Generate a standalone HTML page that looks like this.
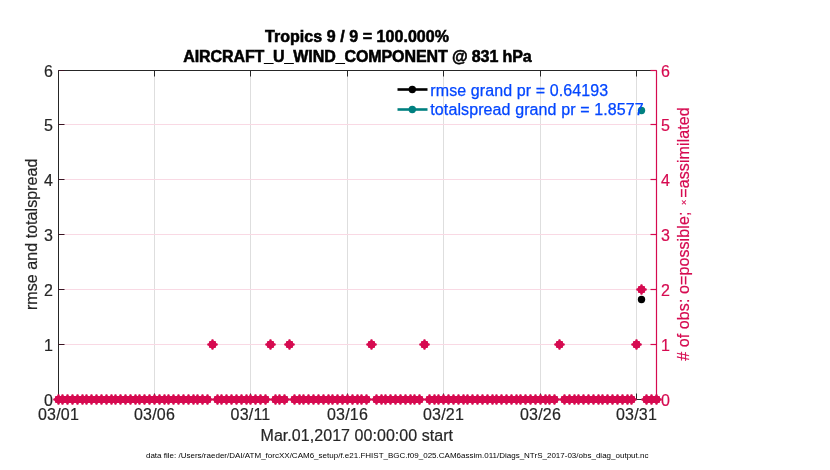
<!DOCTYPE html>
<html lang="en">
<head>
<meta charset="utf-8">
<title>AIRCRAFT_U_WIND_COMPONENT @ 831 hPa</title>
<style>
html,body{margin:0;padding:0;background:#fff;}
body{width:830px;height:470px;overflow:hidden;}
svg{display:block;font-family:"Liberation Sans",sans-serif;}
.t{font-size:16px;fill:#262626;stroke:#262626;stroke-width:0.2px;letter-spacing:0.2px;}
.tb{font-size:16px;font-weight:bold;fill:#000;stroke:#000;stroke-width:0.55px;}
.r{font-size:16px;fill:#d60a50;stroke:#d60a50;stroke-width:0.2px;letter-spacing:0.2px;}
.lg{font-size:16px;fill:#0346ff;stroke:#0346ff;stroke-width:0.25px;}
.ft{font-size:8px;fill:#000;}
</style>
</head>
<body>
<svg width="830" height="470" viewBox="0 0 830 470">
<defs>
<g id="m"><polygon points="5.30 -0.80 5.30 0.80 3.51 1.45 3.61 2.76 2.76 3.61 1.45 3.51 0.80 5.30 -0.80 5.30 -1.45 3.51 -2.76 3.61 -3.61 2.76 -3.51 1.45 -5.30 0.80 -5.30 -0.80 -3.51 -1.45 -3.61 -2.76 -2.76 -3.61 -1.45 -3.51 -0.80 -5.30 0.80 -5.30 1.45 -3.51 2.76 -3.61 3.61 -2.76 3.51 -1.45" fill="#d60a50"/></g>
</defs>
<rect width="830" height="470" fill="#fff"/>

<g stroke="#dedede" stroke-width="1">
<line x1="154.50" y1="70.5" x2="154.50" y2="399.5"/>
<line x1="250.50" y1="70.5" x2="250.50" y2="399.5"/>
<line x1="347.50" y1="70.5" x2="347.50" y2="399.5"/>
<line x1="443.50" y1="70.5" x2="443.50" y2="399.5"/>
<line x1="540.50" y1="70.5" x2="540.50" y2="399.5"/>
<line x1="636.50" y1="70.5" x2="636.50" y2="399.5"/>
</g>
<g stroke="#f9d9e4" stroke-width="1">
<line x1="58.5" y1="344.50" x2="656.5" y2="344.50"/>
<line x1="58.5" y1="289.50" x2="656.5" y2="289.50"/>
<line x1="58.5" y1="234.50" x2="656.5" y2="234.50"/>
<line x1="58.5" y1="179.50" x2="656.5" y2="179.50"/>
<line x1="58.5" y1="124.50" x2="656.5" y2="124.50"/>
</g>
<g stroke="#262626" stroke-width="1" fill="none">
<path d="M58.5 399.5V70.5H656.5M58.5 399.5H656.5"/>
<path d="M58.50 399.5v-6M58.50 70.5v6"/>
<path d="M154.50 399.5v-6M154.50 70.5v6"/>
<path d="M250.50 399.5v-6M250.50 70.5v6"/>
<path d="M347.50 399.5v-6M347.50 70.5v6"/>
<path d="M443.50 399.5v-6M443.50 70.5v6"/>
<path d="M540.50 399.5v-6M540.50 70.5v6"/>
<path d="M636.50 399.5v-6M636.50 70.5v6"/>
<path stroke="#3a1422" d="M58.5 399.50h6"/>
<path stroke="#3a1422" d="M58.5 344.50h6"/>
<path stroke="#3a1422" d="M58.5 289.50h6"/>
<path stroke="#3a1422" d="M58.5 234.50h6"/>
<path stroke="#3a1422" d="M58.5 179.50h6"/>
<path stroke="#3a1422" d="M58.5 124.50h6"/>
<path stroke="#3a1422" d="M58.5 70.50h6"/>
</g>
<g stroke="#d60a50" stroke-width="1.2" fill="none">
<path d="M656.5 399.5V70.5"/>
<path d="M656.5 399.50h-6"/>
<path d="M656.5 344.50h-6"/>
<path d="M656.5 289.50h-6"/>
<path d="M656.5 234.50h-6"/>
<path d="M656.5 179.50h-6"/>
<path d="M656.5 124.50h-6"/>
<path d="M656.5 70.50h-6"/>
</g>
<g class="t" text-anchor="end">
<text x="53.1" y="405.90">0</text>
<text x="53.1" y="350.90">1</text>
<text x="53.1" y="295.90">2</text>
<text x="53.1" y="240.90">3</text>
<text x="53.1" y="185.90">4</text>
<text x="53.1" y="130.90">5</text>
<text x="53.1" y="76.90">6</text>
</g>
<g class="r">
<text x="661" y="405.90">0</text>
<text x="661" y="350.90">1</text>
<text x="661" y="295.90">2</text>
<text x="661" y="240.90">3</text>
<text x="661" y="185.90">4</text>
<text x="661" y="130.90">5</text>
<text x="661" y="76.90">6</text>
</g>
<g class="t" text-anchor="middle">
<text x="58.50" y="420">03/01</text>
<text x="154.50" y="420">03/06</text>
<text x="250.50" y="420">03/11</text>
<text x="347.50" y="420">03/16</text>
<text x="443.50" y="420">03/21</text>
<text x="540.50" y="420">03/26</text>
<text x="636.50" y="420">03/31</text>
</g>
<g stroke-width="2.6" fill="none"><path d="M397.5 89.5H427.5" stroke="#000"/><path d="M397.5 109.5H427.5" stroke="#008080"/></g>
<circle cx="412.3" cy="89.5" r="3.7" fill="#000"/><circle cx="412.3" cy="109.5" r="3.7" fill="#008080"/>
<circle cx="641.50" cy="110.50" r="3.7" fill="#008080"/>
<circle cx="641.50" cy="299.50" r="3.7" fill="#000"/>
<text class="lg" x="430.3" y="96.2" textLength="177.8">rmse grand pr = 0.64193</text>
<text class="lg" x="430.3" y="115.2" textLength="213.3">totalspread grand pr = 1.8577</text>
<g>
<rect x="58.5" y="396.3" width="149.0" height="6.4" fill="#d60a50"/>
<rect x="217.5" y="396.3" width="48.0" height="6.4" fill="#d60a50"/>
<rect x="275.5" y="396.3" width="9.0" height="6.4" fill="#d60a50"/>
<rect x="294.5" y="396.3" width="72.0" height="6.4" fill="#d60a50"/>
<rect x="376.5" y="396.3" width="43.0" height="6.4" fill="#d60a50"/>
<rect x="429.5" y="396.3" width="125.0" height="6.4" fill="#d60a50"/>
<rect x="564.5" y="396.3" width="67.0" height="6.4" fill="#d60a50"/>
<rect x="646.5" y="396.3" width="10.0" height="6.4" fill="#d60a50"/>
<use href="#m" x="58.50" y="399.50"/>
<use href="#m" x="62.50" y="399.50"/>
<use href="#m" x="67.50" y="399.50"/>
<use href="#m" x="72.50" y="399.50"/>
<use href="#m" x="77.50" y="399.50"/>
<use href="#m" x="82.50" y="399.50"/>
<use href="#m" x="86.50" y="399.50"/>
<use href="#m" x="91.50" y="399.50"/>
<use href="#m" x="96.50" y="399.50"/>
<use href="#m" x="101.50" y="399.50"/>
<use href="#m" x="106.50" y="399.50"/>
<use href="#m" x="111.50" y="399.50"/>
<use href="#m" x="115.50" y="399.50"/>
<use href="#m" x="120.50" y="399.50"/>
<use href="#m" x="125.50" y="399.50"/>
<use href="#m" x="130.50" y="399.50"/>
<use href="#m" x="135.50" y="399.50"/>
<use href="#m" x="139.50" y="399.50"/>
<use href="#m" x="144.50" y="399.50"/>
<use href="#m" x="149.50" y="399.50"/>
<use href="#m" x="154.50" y="399.50"/>
<use href="#m" x="159.50" y="399.50"/>
<use href="#m" x="164.50" y="399.50"/>
<use href="#m" x="168.50" y="399.50"/>
<use href="#m" x="173.50" y="399.50"/>
<use href="#m" x="178.50" y="399.50"/>
<use href="#m" x="183.50" y="399.50"/>
<use href="#m" x="188.50" y="399.50"/>
<use href="#m" x="193.50" y="399.50"/>
<use href="#m" x="197.50" y="399.50"/>
<use href="#m" x="202.50" y="399.50"/>
<use href="#m" x="207.50" y="399.50"/>
<use href="#m" x="212.50" y="344.50"/>
<use href="#m" x="217.50" y="399.50"/>
<use href="#m" x="221.50" y="399.50"/>
<use href="#m" x="226.50" y="399.50"/>
<use href="#m" x="231.50" y="399.50"/>
<use href="#m" x="236.50" y="399.50"/>
<use href="#m" x="241.50" y="399.50"/>
<use href="#m" x="246.50" y="399.50"/>
<use href="#m" x="250.50" y="399.50"/>
<use href="#m" x="255.50" y="399.50"/>
<use href="#m" x="260.50" y="399.50"/>
<use href="#m" x="265.50" y="399.50"/>
<use href="#m" x="270.50" y="344.50"/>
<use href="#m" x="275.50" y="399.50"/>
<use href="#m" x="279.50" y="399.50"/>
<use href="#m" x="284.50" y="399.50"/>
<use href="#m" x="289.50" y="344.50"/>
<use href="#m" x="294.50" y="399.50"/>
<use href="#m" x="299.50" y="399.50"/>
<use href="#m" x="303.50" y="399.50"/>
<use href="#m" x="308.50" y="399.50"/>
<use href="#m" x="313.50" y="399.50"/>
<use href="#m" x="318.50" y="399.50"/>
<use href="#m" x="323.50" y="399.50"/>
<use href="#m" x="328.50" y="399.50"/>
<use href="#m" x="332.50" y="399.50"/>
<use href="#m" x="337.50" y="399.50"/>
<use href="#m" x="342.50" y="399.50"/>
<use href="#m" x="347.50" y="399.50"/>
<use href="#m" x="352.50" y="399.50"/>
<use href="#m" x="357.50" y="399.50"/>
<use href="#m" x="361.50" y="399.50"/>
<use href="#m" x="366.50" y="399.50"/>
<use href="#m" x="371.50" y="344.50"/>
<use href="#m" x="376.50" y="399.50"/>
<use href="#m" x="381.50" y="399.50"/>
<use href="#m" x="385.50" y="399.50"/>
<use href="#m" x="390.50" y="399.50"/>
<use href="#m" x="395.50" y="399.50"/>
<use href="#m" x="400.50" y="399.50"/>
<use href="#m" x="405.50" y="399.50"/>
<use href="#m" x="410.50" y="399.50"/>
<use href="#m" x="414.50" y="399.50"/>
<use href="#m" x="419.50" y="399.50"/>
<use href="#m" x="424.50" y="344.50"/>
<use href="#m" x="429.50" y="399.50"/>
<use href="#m" x="434.50" y="399.50"/>
<use href="#m" x="438.50" y="399.50"/>
<use href="#m" x="443.50" y="399.50"/>
<use href="#m" x="448.50" y="399.50"/>
<use href="#m" x="453.50" y="399.50"/>
<use href="#m" x="458.50" y="399.50"/>
<use href="#m" x="463.50" y="399.50"/>
<use href="#m" x="467.50" y="399.50"/>
<use href="#m" x="472.50" y="399.50"/>
<use href="#m" x="477.50" y="399.50"/>
<use href="#m" x="482.50" y="399.50"/>
<use href="#m" x="487.50" y="399.50"/>
<use href="#m" x="492.50" y="399.50"/>
<use href="#m" x="496.50" y="399.50"/>
<use href="#m" x="501.50" y="399.50"/>
<use href="#m" x="506.50" y="399.50"/>
<use href="#m" x="511.50" y="399.50"/>
<use href="#m" x="516.50" y="399.50"/>
<use href="#m" x="520.50" y="399.50"/>
<use href="#m" x="525.50" y="399.50"/>
<use href="#m" x="530.50" y="399.50"/>
<use href="#m" x="535.50" y="399.50"/>
<use href="#m" x="540.50" y="399.50"/>
<use href="#m" x="545.50" y="399.50"/>
<use href="#m" x="549.50" y="399.50"/>
<use href="#m" x="554.50" y="399.50"/>
<use href="#m" x="559.50" y="344.50"/>
<use href="#m" x="564.50" y="399.50"/>
<use href="#m" x="569.50" y="399.50"/>
<use href="#m" x="574.50" y="399.50"/>
<use href="#m" x="578.50" y="399.50"/>
<use href="#m" x="583.50" y="399.50"/>
<use href="#m" x="588.50" y="399.50"/>
<use href="#m" x="593.50" y="399.50"/>
<use href="#m" x="598.50" y="399.50"/>
<use href="#m" x="602.50" y="399.50"/>
<use href="#m" x="607.50" y="399.50"/>
<use href="#m" x="612.50" y="399.50"/>
<use href="#m" x="617.50" y="399.50"/>
<use href="#m" x="622.50" y="399.50"/>
<use href="#m" x="627.50" y="399.50"/>
<use href="#m" x="631.50" y="399.50"/>
<use href="#m" x="636.50" y="344.50"/>
<use href="#m" x="641.50" y="289.50"/>
<use href="#m" x="646.50" y="399.50"/>
<use href="#m" x="651.50" y="399.50"/>
<use href="#m" x="656.50" y="399.50"/>
</g>
<text class="tb" text-anchor="middle" x="357" y="42" textLength="184">Tropics 9 / 9 = 100.000%</text>
<text class="tb" text-anchor="middle" x="357.5" y="62.3" textLength="348.5">AIRCRAFT_U_WIND_COMPONENT @ 831 hPa</text>
<text class="t" style="letter-spacing:0" text-anchor="middle" textLength="192.5" x="356.8" y="441">Mar.01,2017 00:00:00 start</text>
<text class="t" style="letter-spacing:0" text-anchor="middle" textLength="151.5" transform="translate(37.1 234.3) rotate(-90)">rmse and totalspread</text>
<text class="r" style="letter-spacing:0" text-anchor="middle" textLength="253.5" transform="translate(689 234) rotate(-90)"># of obs: o=possible; <tspan font-size="9" dy="-2.5" dx="2">×</tspan><tspan dy="2.5" dx="2">=assimilated</tspan></text>
<text class="ft" text-anchor="middle" textLength="502.5" x="397.2" y="458">data file: /Users/raeder/DAI/ATM_forcXX/CAM6_setup/f.e21.FHIST_BGC.f09_025.CAM6assim.011/Diags_NTrS_2017-03/obs_diag_output.nc</text>
</svg>
</body>
</html>
